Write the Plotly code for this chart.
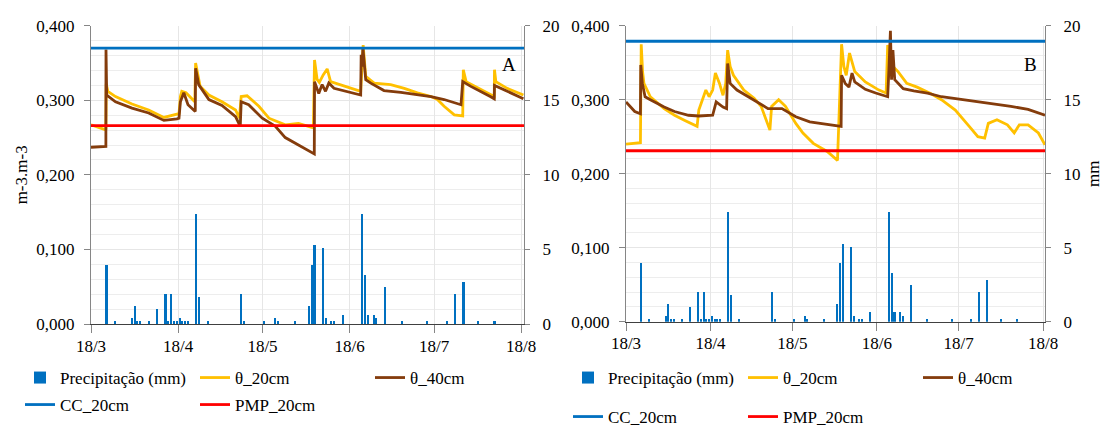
import plotly.graph_objects as go

# ---------------- data ----------------
# Daily precipitation (mm) – same gauge shown in both panels
rain_dates = ["2019-03-23", "2019-03-26", "2019-04-01", "2019-04-02", "2019-04-03", "2019-04-04",
              "2019-04-07", "2019-04-10", "2019-04-13", "2019-04-14", "2019-04-15", "2019-04-16",
              "2019-04-17", "2019-04-18", "2019-04-19", "2019-04-20", "2019-04-21", "2019-04-24",
              "2019-04-25", "2019-04-28", "2019-05-10", "2019-05-11", "2019-05-18", "2019-05-22",
              "2019-05-23", "2019-05-29", "2019-06-03", "2019-06-04", "2019-06-05", "2019-06-08",
              "2019-06-09", "2019-06-11", "2019-06-12", "2019-06-15", "2019-06-22", "2019-06-23",
              "2019-06-24", "2019-06-26", "2019-06-27", "2019-06-30", "2019-07-06", "2019-07-15",
              "2019-07-22", "2019-07-25", "2019-07-28", "2019-08-02", "2019-08-08"]
rain_mm = [4.0, 0.2, 0.4, 1.2, 0.2, 0.2,
           0.2, 1.0, 2.0, 0.2, 2.0, 0.2,
           0.2, 0.4, 0.2, 0.2, 0.2, 7.4,
           1.8, 0.2, 2.0, 0.2, 0.2, 0.4,
           0.2, 0.2, 1.2, 4.0, 5.3, 5.1,
           0.4, 0.2, 0.2, 0.65, 7.4, 3.3,
           0.65, 0.65, 0.4, 2.5, 0.2, 0.2,
           0.2, 2.0, 2.85, 0.2, 0.2]

# Panel A – soil water content (m3/m3)
a_t20_dates = ["2019-03-18 00:00", "2019-03-22 19:00", "2019-03-23 07:00", "2019-03-23 10:00",
               "2019-03-24 00:00", "2019-03-26 17:00", "2019-04-01 14:00", "2019-04-07 12:00",
               "2019-04-12 22:00", "2019-04-17 14:00", "2019-04-18 07:00", "2019-04-18 19:00",
               "2019-04-19 07:00", "2019-04-20 19:00", "2019-04-23 22:00", "2019-04-24 05:00",
               "2019-04-25 19:00", "2019-04-28 22:00", "2019-05-03 14:00", "2019-05-08 10:00",
               "2019-05-09 19:00", "2019-05-10 10:00", "2019-05-12 12:00", "2019-05-16 17:00",
               "2019-05-20 07:00", "2019-05-26 02:00", "2019-05-30 19:00", "2019-06-05 02:00",
               "2019-06-05 12:00", "2019-06-06 10:00", "2019-06-07 05:00", "2019-06-08 14:00",
               "2019-06-10 00:00", "2019-06-11 05:00", "2019-06-13 12:00", "2019-06-21 22:00",
               "2019-06-22 19:00", "2019-06-23 17:00", "2019-06-26 17:00", "2019-07-02 14:00",
               "2019-07-07 10:00", "2019-07-12 02:00", "2019-07-16 22:00", "2019-07-19 05:00",
               "2019-07-21 14:00", "2019-07-25 05:00", "2019-07-28 05:00", "2019-07-28 10:00",
               "2019-07-29 10:00", "2019-08-07 00:00", "2019-08-08 10:00", "2019-08-08 12:00",
               "2019-08-09 00:00", "2019-08-13 00:00", "2019-08-18 19:00"]
a_t20 = [0.267, 0.261, 0.262, 0.322,
         0.312, 0.305, 0.295, 0.287,
         0.277, 0.2805, 0.282, 0.305,
         0.312, 0.310, 0.298, 0.350,
         0.319, 0.307, 0.298, 0.287,
         0.276, 0.305, 0.306, 0.292,
         0.276, 0.267, 0.269, 0.263,
         0.354, 0.328, 0.324, 0.334,
         0.342, 0.325, 0.322, 0.312,
         0.374, 0.332, 0.323, 0.321,
         0.316, 0.310, 0.305, 0.301,
         0.292, 0.2805, 0.279, 0.341,
         0.325, 0.307, 0.305, 0.341,
         0.325, 0.316, 0.307]

a_t40_dates = ["2019-03-18 00:00", "2019-03-23 07:00", "2019-03-23 08:00", "2019-03-23 11:00",
               "2019-03-23 14:00", "2019-03-26 17:00", "2019-04-01 14:00", "2019-04-07 12:00",
               "2019-04-12 22:00", "2019-04-17 14:00", "2019-04-18 07:00", "2019-04-18 19:00",
               "2019-04-20 00:00", "2019-04-21 12:00", "2019-04-24 02:00", "2019-04-24 05:00",
               "2019-04-25 07:00", "2019-04-28 22:00", "2019-05-03 14:00", "2019-05-08 10:00",
               "2019-05-10 02:00", "2019-05-10 10:00", "2019-05-13 02:00", "2019-05-17 22:00",
               "2019-05-22 14:00", "2019-05-26 02:00", "2019-05-30 19:00", "2019-06-05 10:00",
               "2019-06-05 12:00", "2019-06-06 12:00", "2019-06-07 00:00", "2019-06-08 05:00",
               "2019-06-09 10:00", "2019-06-10 14:00", "2019-06-12 10:00", "2019-06-21 22:00",
               "2019-06-22 02:00", "2019-06-22 10:00", "2019-06-22 17:00", "2019-06-23 02:00",
               "2019-06-23 17:00", "2019-06-25 12:00", "2019-06-30 05:00", "2019-07-06 05:00",
               "2019-07-12 02:00", "2019-07-16 22:00", "2019-07-21 14:00", "2019-07-27 14:00",
               "2019-07-28 05:00", "2019-07-31 02:00", "2019-08-07 00:00", "2019-08-08 10:00",
               "2019-08-08 12:00", "2019-08-13 00:00", "2019-08-18 19:00"]
a_t40 = [0.237, 0.238, 0.368, 0.321,
         0.307, 0.298, 0.2895, 0.283,
         0.273, 0.275, 0.276, 0.298,
         0.310, 0.294, 0.285, 0.343,
         0.321, 0.301, 0.293, 0.278,
         0.265, 0.298, 0.294, 0.276,
         0.265, 0.250, 0.240, 0.228,
         0.325, 0.314, 0.309, 0.321,
         0.312, 0.323, 0.316, 0.307,
         0.361, 0.345, 0.370, 0.354,
         0.3275, 0.323, 0.313, 0.3105,
         0.307, 0.305, 0.301, 0.294,
         0.325, 0.3186, 0.305, 0.302,
         0.320, 0.312, 0.302]
a_cc = 0.370
a_pmp = 0.266

# Panel B – soil water content (m3/m3)
b_t20_dates = ["2019-03-18 00:00", "2019-03-23 07:00", "2019-03-23 14:00", "2019-03-24 02:00",
               "2019-03-24 14:00", "2019-03-26 22:00", "2019-04-01 00:00", "2019-04-04 19:00",
               "2019-04-08 14:00", "2019-04-13 02:00", "2019-04-13 17:00", "2019-04-16 07:00",
               "2019-04-17 12:00", "2019-04-18 19:00", "2019-04-19 19:00", "2019-04-21 07:00",
               "2019-04-22 14:00", "2019-04-23 14:00", "2019-04-24 07:00", "2019-04-25 05:00",
               "2019-04-26 10:00", "2019-04-30 05:00", "2019-05-04 00:00", "2019-05-06 14:00",
               "2019-05-09 19:00", "2019-05-10 10:00", "2019-05-13 00:00", "2019-05-15 12:00",
               "2019-05-19 07:00", "2019-05-21 22:00", "2019-05-25 17:00", "2019-05-30 19:00",
               "2019-06-03 14:00", "2019-06-04 05:00", "2019-06-05 02:00", "2019-06-05 22:00",
               "2019-06-06 19:00", "2019-06-08 00:00", "2019-06-08 22:00", "2019-06-09 22:00",
               "2019-06-13 19:00", "2019-06-18 19:00", "2019-06-21 10:00", "2019-06-22 00:00",
               "2019-06-22 17:00", "2019-06-23 22:00", "2019-06-25 19:00", "2019-06-29 00:00",
               "2019-07-02 19:00", "2019-07-07 22:00", "2019-07-11 17:00", "2019-07-16 19:00",
               "2019-07-21 22:00", "2019-07-25 02:00", "2019-07-27 14:00", "2019-07-28 22:00",
               "2019-08-01 02:00", "2019-08-04 22:00", "2019-08-07 10:00", "2019-08-09 07:00",
               "2019-08-12 12:00", "2019-08-16 07:00", "2019-08-18 17:00"]
b_t20 = [0.240, 0.242, 0.375, 0.338,
         0.322, 0.304, 0.288, 0.279,
         0.272, 0.264, 0.286, 0.313,
         0.304, 0.313, 0.336, 0.322,
         0.306, 0.322, 0.367, 0.345,
         0.333, 0.313, 0.302, 0.291,
         0.259, 0.291, 0.300, 0.291,
         0.268, 0.255, 0.241, 0.230,
         0.218, 0.282, 0.375, 0.345,
         0.333, 0.363, 0.349, 0.338,
         0.324, 0.313, 0.309, 0.374,
         0.358, 0.345, 0.338, 0.322,
         0.317, 0.308, 0.300, 0.286,
         0.264, 0.250, 0.248, 0.268,
         0.273, 0.266, 0.255, 0.266,
         0.266, 0.255, 0.239]

b_t40_dates = ["2019-03-18 00:00", "2019-03-21 05:00", "2019-03-23 07:00", "2019-03-23 10:00",
               "2019-03-24 00:00", "2019-03-25 00:00", "2019-03-26 22:00", "2019-04-01 00:00",
               "2019-04-04 19:00", "2019-04-09 22:00", "2019-04-13 17:00", "2019-04-18 19:00",
               "2019-04-20 02:00", "2019-04-22 14:00", "2019-04-23 22:00", "2019-04-24 07:00",
               "2019-04-25 05:00", "2019-04-27 17:00", "2019-05-02 19:00", "2019-05-09 02:00",
               "2019-05-14 05:00", "2019-05-19 07:00", "2019-05-24 10:00", "2019-05-30 19:00",
               "2019-06-04 22:00", "2019-06-05 02:00", "2019-06-06 10:00", "2019-06-07 19:00",
               "2019-06-08 22:00", "2019-06-09 22:00", "2019-06-13 19:00", "2019-06-17 14:00",
               "2019-06-22 00:00", "2019-06-22 10:00", "2019-06-23 00:00", "2019-06-23 10:00",
               "2019-06-23 22:00", "2019-06-24 14:00", "2019-06-27 17:00", "2019-07-01 14:00",
               "2019-07-06 14:00", "2019-07-11 17:00", "2019-07-18 02:00", "2019-07-24 10:00",
               "2019-07-30 19:00", "2019-08-06 05:00", "2019-08-12 12:00", "2019-08-18 17:00"]
b_t40 = [0.297, 0.284, 0.281, 0.347,
         0.322, 0.304, 0.300, 0.290,
         0.284, 0.279, 0.278, 0.279,
         0.297, 0.290, 0.288, 0.349,
         0.322, 0.313, 0.302, 0.288,
         0.288, 0.277, 0.270, 0.267,
         0.264, 0.333, 0.322, 0.317,
         0.336, 0.324, 0.314, 0.309,
         0.304, 0.338, 0.393, 0.327,
         0.367, 0.327, 0.315, 0.312,
         0.309, 0.304, 0.301, 0.297,
         0.294, 0.291, 0.287, 0.279]
b_cc = 0.379
b_pmp = 0.231

a_period = ["2019-03-18 00:00", "2019-08-19 00:00"]
b_period = ["2019-03-18 00:00", "2019-08-18 17:00"]

x_tick_start = "2019-03-18"

# ---------------- styling ----------------
FONT = "Liberation Serif, DejaVu Serif, serif"
FS = 17
W, H = 1103, 426
C_RAIN = "#0070C0"
C_T20 = "#FFC000"
C_T40 = "#843C0C"
C_CC = "#0070C0"
C_PMP = "#FF0000"
AXC = "#868686"
GRID = "#E6E6E6"
MINOR = "#EDEDED"
DAY_MS = 86400000

fig = go.Figure()


def add_panel(xa, ya, ya2, leg1, leg2, t20x, t20y, t40x, t40y, cc, pmp, period):
    fig.add_trace(go.Bar(x=rain_dates, y=rain_mm, xperiod=DAY_MS, xperiodalignment="middle",
                         width=0.75 * DAY_MS, name="Precipitação (mm)",
                         marker=dict(color=C_RAIN, line=dict(width=0)),
                         xaxis=xa, yaxis=ya2, legend=leg1))
    fig.add_trace(go.Scatter(x=t20x, y=t20y, mode="lines", name="θ_20cm",
                             line=dict(color=C_T20, width=2.8), xaxis=xa, yaxis=ya, legend=leg1))
    fig.add_trace(go.Scatter(x=t40x, y=t40y, mode="lines", name="θ_40cm",
                             line=dict(color=C_T40, width=2.8), xaxis=xa, yaxis=ya, legend=leg1))
    fig.add_trace(go.Scatter(x=period, y=[cc, cc], mode="lines", name="CC_20cm",
                             line=dict(color=C_CC, width=2.8), xaxis=xa, yaxis=ya, legend=leg2))
    fig.add_trace(go.Scatter(x=period, y=[pmp, pmp], mode="lines", name="PMP_20cm",
                             line=dict(color=C_PMP, width=2.8), xaxis=xa, yaxis=ya, legend=leg2))


add_panel("x", "y", "y2", "legend", "legend2", a_t20_dates, a_t20, a_t40_dates, a_t40,
          a_cc, a_pmp, a_period)
add_panel("x2", "y3", "y4", "legend3", "legend4", b_t20_dates, b_t20, b_t40_dates, b_t40,
          b_cc, b_pmp, b_period)

tickfont = dict(family=FONT, size=FS, color="#000000")


def xaxis(domain, anchor, rng):
    return dict(domain=domain, anchor=anchor, type="date", range=rng,
                dtick="M1", tick0=x_tick_start, tickformat="%-d/%-m",
                ticks="outside", ticklen=8, tickcolor=AXC, tickwidth=1,
                ticklabelstandoff=-2,
                showline=True, linecolor="#404040", linewidth=1.3,
                showgrid=True, gridcolor=GRID, gridwidth=1, zeroline=False,
                tickfont=tickfont)


def yleft(domain, anchor, title):
    d = dict(domain=domain, anchor=anchor, range=[0, 0.4], dtick=0.1, tickformat=".3f",
             ticks="outside", ticklen=6, tickcolor=AXC, ticklabelstandoff=6,
             showline=True, linecolor=AXC, linewidth=1.3,
             showgrid=True, gridcolor=GRID, zeroline=False,
             minor=dict(dtick=0.02, showgrid=True, gridcolor=MINOR, ticks=""),
             tickfont=tickfont)
    if title:
        d["title"] = dict(text=title, font=dict(family=FONT, size=FS, color="#000000"), standoff=4)
    return d


def yright(overlay, anchor, title):
    d = dict(overlaying=overlay, anchor=anchor, side="right", range=[0, 20], dtick=5,
             ticks="outside", ticklen=5, tickcolor=AXC, ticklabelstandoff=9,
             showline=True, linecolor=AXC, linewidth=1.3, showgrid=False, zeroline=False,
             tickfont=tickfont)
    if title:
        d["title"] = dict(text=title, font=dict(family=FONT, size=FS, color="#000000"), standoff=16)
    return d


legfont = dict(family=FONT, size=FS, color="#000000")


def legend(x, y):
    return dict(orientation="h", x=x, xanchor="left", y=y, yanchor="middle",
                entrywidth=130, entrywidthmode="pixels", itemwidth=30,
                font=legfont, bgcolor="rgba(0,0,0,0)", borderwidth=0,
                tracegroupgap=0, itemclick=False, itemdoubleclick=False)


fig.update_layout(
    width=W, height=H,
    margin=dict(l=0, r=0, t=0, b=0, autoexpand=False),
    paper_bgcolor="white", plot_bgcolor="white",
    separators=",.",
    font=dict(family=FONT, size=FS, color="#000000"),
    showlegend=True,
    bargap=0,
    xaxis=xaxis([91 / W, 524 / W], "y", a_period),
    yaxis=yleft([1 - 324 / H, 1 - 25.7 / H], "x", "m-3.m-3"),
    yaxis2=yright("y", "x", None),
    xaxis2=xaxis([626 / W, 1045 / W], "y3", b_period),
    yaxis3=yleft([1 - 321.7 / H, 1 - 25.7 / H], "x2", None),
    yaxis4=yright("y3", "x2", "mm"),
    legend=legend(20 / W, 1 - 378 / H),
    legend2=legend(20 / W, 1 - 405 / H),
    legend3=legend(568 / W, 1 - 378 / H),
    legend4=legend(568 / W, 1 - 417 / H),
    annotations=[
        dict(text="A", x=509 / W, y=1 - 65 / H, xref="paper", yref="paper",
             xanchor="center", yanchor="middle",
             showarrow=False, font=dict(family=FONT, size=19, color="#000000")),
        dict(text="B", x=1030 / W, y=1 - 65 / H, xref="paper", yref="paper",
             xanchor="center", yanchor="middle",
             showarrow=False, font=dict(family=FONT, size=19, color="#000000")),
    ],
)

fig.write_html("out.html",
               config={"displayModeBar": False},
               post_script="document.body.style.margin='0';document.body.style.padding='0';")
